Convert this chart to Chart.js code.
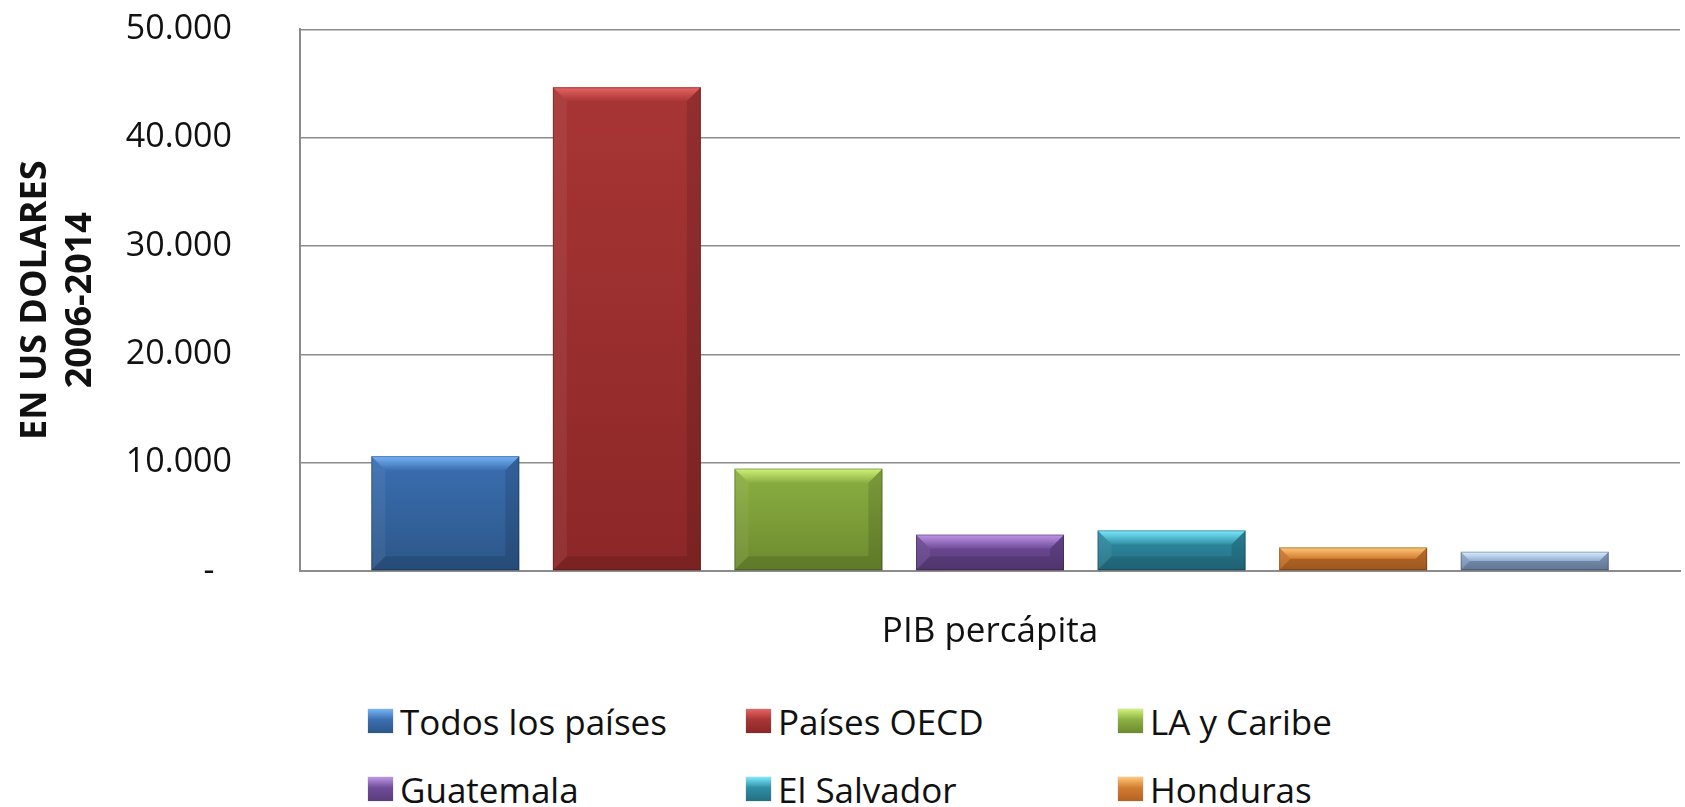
<!DOCTYPE html>
<html>
<head>
<meta charset="utf-8">
<script src="https://cdn.jsdelivr.net/npm/chart.js@4"></script>
<style>
  html,body{margin:0;padding:0;background:#fff;overflow:hidden;}
  body{width:1685px;height:807px;position:relative;font-family:"Open Sans",sans-serif;}
  #wrap{position:absolute;left:0;top:-59px;width:1685px;height:719px;}
  .leg{position:absolute;display:flex;align-items:center;font-size:35px;color:#111;white-space:nowrap;line-height:1;}
  .leg i{display:inline-block;width:25px;height:24px;margin-right:7px;box-shadow:0 0 1px rgba(0,0,0,0.4);}
</style>
</head>
<body>
<div id="wrap"><canvas id="c"></canvas></div>
<div id="legend"></div>
<script>
// data
const categories = ['PIB percápita'];
const seriesNames = ['Todos los países','Países OECD','LA y Caribe','Guatemala','El Salvador','Honduras','Nicaragua'];
const seriesValues = [10600, 44650, 9450, 3350, 3740, 2170, 1770];
const yTicks = [0, 10000, 20000, 30000, 40000, 50000];

// top, body, bottom colours
const colors = [
  ['#76b4f5','#3b6fb2','#2c5688'],
  ['#e86464','#a83535','#8c2727'],
  ['#d0f27a','#8cb042','#6c8a2e'],
  ['#c096e8','#6f4c98','#5a3c7e'],
  ['#7ceaff','#2f8ea4','#246f84'],
  ['#ffc878','#d27c30','#b46222'],
  ['#d8f0ff','#94acd0','#6e84a8']
];

const fmt = v => v === 0 ? '-  ' : String(v).replace(/\B(?=(\d{3})+(?!\d))/g, '.');

function grad(ctx, i){
  const ca = ctx.chart.chartArea;
  const ys = ctx.chart.scales.y;
  if(!ca || !ys) return colors[i][1];
  const top = ys.getPixelForValue(seriesValues[i]), bot = ca.bottom;
  if(!isFinite(top) || !isFinite(bot) || bot <= top) return colors[i][1];
  const g = ctx.chart.ctx.createLinearGradient(0, top, 0, bot);
  g.addColorStop(0, colors[i][1]);
  g.addColorStop(1, colors[i][2]);
  return g;
}

// bevel look like the office chart
const bevel = {
  id:'bevel',
  afterDatasetsDraw(chart){
    const c = chart.ctx;
    chart.data.datasets.forEach((ds, i)=>{
      chart.getDatasetMeta(i).data.forEach(el=>{
        const l = el.x - el.width/2, r = el.x + el.width/2, t = el.y, b = el.base;
        if(![l, r, t, b].every(isFinite)) return;
        const h = b - t, d = Math.min(14, h/2);
        c.save();
        const g = c.createLinearGradient(0, t, 0, t+d);
        g.addColorStop(0, colors[i][0]); g.addColorStop(1, colors[i][1]);
        c.fillStyle = g;
        c.beginPath(); c.moveTo(l,t); c.lineTo(r,t); c.lineTo(r-d,t+d); c.lineTo(l+d,t+d); c.closePath(); c.fill();
        c.fillStyle = 'rgba(0,0,0,0.12)';
        c.beginPath(); c.moveTo(r,t); c.lineTo(r,b); c.lineTo(r-d,b-d); c.lineTo(r-d,t+d); c.closePath(); c.fill();
        c.beginPath(); c.moveTo(l,b); c.lineTo(r,b); c.lineTo(r-d,b-d); c.lineTo(l+d,b-d); c.closePath(); c.fill();
        c.fillStyle = 'rgba(255,255,255,0.06)';
        c.beginPath(); c.moveTo(l,t); c.lineTo(l+d,t+d); c.lineTo(l+d,b-d); c.lineTo(l,b); c.closePath(); c.fill();
        c.strokeStyle = 'rgba(0,0,0,0.25)'; c.lineWidth = 1;
        c.strokeRect(l+0.5, t+0.5, r-l-1, h-1);
        c.restore();
      });
    });
  }
};

const datasets = seriesNames.map((n, i)=>({
  label: n,
  data: [seriesValues[i]],
  backgroundColor: ctx => grad(ctx, i),
  borderWidth: 0,
  barPercentage: 0.815,
  categoryPercentage: 0.921
}));

new Chart(document.getElementById('c'), {
  type:'bar',
  data:{ labels: categories, datasets },
  plugins:[bevel],
  options:{
    responsive:true, maintainAspectRatio:false, animation:false,
    layout:{ padding:{ top:27, right:5, left:13, bottom:0 } },
    plugins:{ legend:{ display:false }, tooltip:{ enabled:false } },
    scales:{
      x:{
        grid:{ display:false, drawTicks:false },
        border:{ display:true, color:'#8c8c8c', width:2 },
        ticks:{ color:'#111', padding:40, font:{ family:'Open Sans', size:35 } },
        afterFit(s){ s.height = 89; }
      },
      y:{
        min:0, max:50000,
        afterBuildTicks(s){ s.ticks = yTicks.map(v=>({ value:v })); },
        grid:{ color:'#8c8c8c', lineWidth:1.5, drawTicks:false },
        border:{ display:true, color:'#8c8c8c', width:2 },
        ticks:{ color:'#111', padding:68, callback: v => fmt(v), font:{ family:'Open Sans', size:34 } },
        title:{ display:true, text:['EN US DOLARES','2006-2014'], color:'#111', padding:{ top:0, bottom:0 },
                font:{ family:'Open Sans', size:36, weight:'bold', lineHeight:1.25 } },
        afterFit(s){ s.width = 287; }
      }
    }
  }
});

// legend in three columns like the reference
const legCols = [368, 746, 1118];
const legRows = [722, 790, 858];
const legend = document.getElementById('legend');
seriesNames.forEach((n, i)=>{
  const d = document.createElement('div');
  d.className = 'leg';
  d.style.left = legCols[i % 3] + 'px';
  d.style.top = (legRows[Math.floor(i / 3)] - 21) + 'px';
  d.style.height = '40px';
  d.innerHTML = `<i style="background:linear-gradient(${colors[i][0]},${colors[i][1]} 45%,${colors[i][2]})"></i><span>${n}</span>`;
  legend.appendChild(d);
});
</script>
</body>
</html>
